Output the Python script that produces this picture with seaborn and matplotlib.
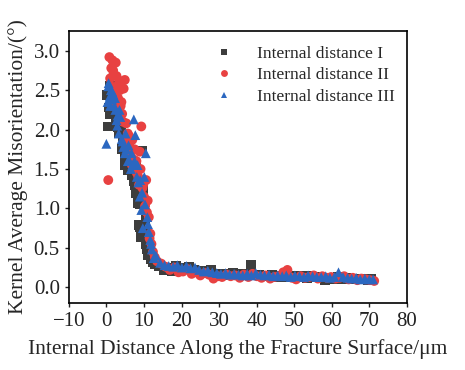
import seaborn as sns
import matplotlib.pyplot as plt
import pandas as pd

# Internal distance I (black squares)
x_I = [0.2, 0.4, 0.7, 1.0, 1.3, 1.7, 2.0, 2.4, 2.8, 3.2, 3.6, 4.0, 4.4, 4.8, 5.2, 5.6, 6.0,
       6.4, 6.8, 7.2, 7.6, 8.0, 8.3, 8.6, 8.9, 9.3, 9.6, 9.9, 10.2, 10.6, 11.0, 11.4, 11.8, 12.3,
       0.9, 1.5, 2.2, 2.6, 3.0, 3.4, 4.2, 5.0, 5.4, 6.2, 7.0, 7.4, 7.8, 9.0, 9.5, 10.4, 10.8,
       13.0, 14.0, 15.2, 16.3, 17.5, 18.6, 19.8, 21.0, 22.1, 23.3, 24.4, 25.6, 26.8, 27.9, 29.1,
       30.3, 31.4, 32.6, 33.7, 34.9, 36.1, 37.2, 38.4, 39.5, 40.7, 41.9, 43.0, 44.2, 45.3, 46.5,
       47.7, 48.8, 50.0, 51.2, 52.3, 53.5, 54.6, 55.8, 57.0, 58.1, 59.3, 60.4, 61.6, 62.8, 63.9,
       65.1, 66.2, 67.4, 68.6, 69.7, 70.5]
y_I = [2.44, 2.04, 2.28, 2.20, 2.36, 2.50, 2.48, 2.30, 2.22, 2.03, 2.12, 1.97, 1.90, 1.68, 1.65,
       1.49, 1.60, 1.55, 1.42, 1.38, 1.30, 1.53, 1.07, 0.79, 0.76, 0.64, 1.73, 1.25, 0.72, 0.55,
       0.41, 0.45, 0.36, 0.32,
       2.55, 2.30, 2.40, 2.15, 2.25, 1.95, 1.75, 1.55, 1.62, 1.70, 1.45, 1.35, 1.20, 1.05, 1.30,
       0.85, 0.48,
       0.30, 0.27, 0.22, 0.24, 0.20, 0.27, 0.25, 0.24, 0.26, 0.22, 0.20, 0.21, 0.18, 0.22, 0.17,
       0.15, 0.17, 0.16, 0.18, 0.15, 0.17, 0.16, 0.28, 0.15, 0.16, 0.14, 0.15, 0.16, 0.13, 0.15,
       0.13, 0.14, 0.15, 0.13, 0.14, 0.12, 0.14, 0.13, 0.12, 0.09, 0.12, 0.11, 0.13, 0.11, 0.12,
       0.10, 0.11, 0.10, 0.11, 0.09, 0.10]

# Internal distance II (red circles)
x_II = [0.5, 0.8, 1.0, 1.3, 1.6, 1.9, 2.2, 2.5, 2.8, 3.1, 3.4, 3.8, 4.2, 4.6, 4.9, 5.3, 5.7,
        6.1, 6.5, 6.9, 7.3, 7.7, 8.1, 8.5, 8.9, 9.3, 9.6, 10.0, 10.3, 10.6, 11.0, 11.3, 11.7,
        12.0, 12.4, 12.9,
        1.2, 1.8, 2.0, 2.7, 3.0, 3.6, 4.0, 4.4, 5.5, 6.0, 6.8, 7.5, 8.0, 8.7, 9.1, 9.8, 10.8, 11.5,
        13.5, 14.6, 15.8, 16.9, 18.1, 19.2, 20.4, 21.6, 22.7, 23.9, 25.0, 26.2, 27.3, 28.5,
        29.7, 30.8, 32.0, 33.1, 34.3, 35.5, 36.6, 37.8, 38.9, 40.1, 41.3, 42.4, 43.6, 44.7,
        45.9, 47.1, 48.2, 49.4, 50.5, 51.7, 52.9, 54.0, 55.2, 56.3, 57.5, 58.7, 59.8, 61.0,
        62.1, 63.3, 64.5, 65.6, 66.8, 67.9, 69.1, 70.2, 71.3]
y_II = [1.36, 2.92, 2.65, 2.78, 2.88, 2.70, 2.32, 2.85, 2.55, 2.40, 2.62, 2.30, 2.20, 2.52,
        2.63, 2.08, 1.95, 1.80, 1.70, 1.87, 1.62, 1.52, 1.45, 1.40, 1.72, 2.04, 1.26, 1.15,
        1.03, 1.36, 1.10, 0.89, 0.68, 0.55, 0.45, 0.38,
        2.55, 2.75, 2.45, 2.68, 2.25, 2.50, 2.35, 2.10, 1.85, 1.92, 1.55, 1.75, 1.60, 1.30,
        1.50, 1.30, 0.95, 0.62,
        0.33, 0.30, 0.26, 0.22, 0.25, 0.19, 0.20, 0.23, 0.17, 0.19, 0.15, 0.18, 0.16, 0.11,
        0.14, 0.13, 0.16, 0.14, 0.15, 0.12, 0.16, 0.13, 0.17, 0.14, 0.12, 0.15, 0.11, 0.13,
        0.14, 0.19, 0.22, 0.12, 0.10, 0.14, 0.12, 0.13, 0.15, 0.11, 0.14, 0.12, 0.13, 0.11,
        0.12, 0.14, 0.10, 0.12, 0.09, 0.11, 0.10, 0.09, 0.08]

# Internal distance III (blue triangles)
x_III = [0.0, 0.3, 0.6, 0.9, 1.2, 1.5, 1.8, 2.1, 2.4, 2.7, 3.0, 3.3, 3.7, 4.1, 4.5, 4.9, 5.3,
         5.7, 6.1, 6.5, 6.9, 7.3, 7.7, 8.1, 8.5, 8.9, 9.3, 9.7, 10.1, 10.5, 10.9, 11.3, 11.7,
         12.1, 12.6,
         0.5, 1.0, 1.6, 2.3, 2.9, 3.5, 4.3, 5.1, 5.9, 6.7, 7.5, 8.3, 9.0, 9.5, 10.3, 11.1, 11.9,
         13.2, 14.3, 15.5, 16.6, 17.8, 18.9, 20.1, 21.3, 22.4, 23.6, 24.7, 25.9, 27.0, 28.2,
         29.4, 30.5, 31.7, 32.8, 34.0, 35.2, 36.3, 37.5, 38.6, 39.8, 41.0, 42.1, 43.3, 44.4,
         45.6, 46.8, 47.9, 49.1, 50.2, 51.4, 52.6, 53.7, 54.9, 56.0, 57.2, 58.4, 59.5, 60.7,
         61.8, 63.0, 64.2, 65.3, 66.5, 67.6, 68.8, 70.0, 71.0]
y_III = [1.82, 2.35, 2.59, 2.42, 2.50, 2.38, 2.45, 2.30, 2.25, 2.12, 2.18, 1.95, 2.16, 1.88,
         1.78, 1.70, 1.75, 1.60, 1.61, 1.50, 1.55, 2.13, 1.93, 1.40, 1.33, 1.15, 0.98, 0.75,
         1.40, 1.70, 0.89, 0.70, 0.60, 0.48, 0.37,
         2.55, 2.30, 2.48, 2.40, 2.05, 2.25, 1.85, 1.95, 1.80, 1.70, 1.60, 1.55, 1.36, 1.20,
         1.05, 0.80, 0.55,
         0.40, 0.31, 0.28, 0.27, 0.26, 0.28, 0.25, 0.27, 0.24, 0.25, 0.22, 0.20, 0.21, 0.19,
         0.18, 0.17, 0.18, 0.16, 0.17, 0.16, 0.15, 0.17, 0.15, 0.18, 0.16, 0.15, 0.16, 0.14,
         0.15, 0.14, 0.15, 0.13, 0.15, 0.14, 0.13, 0.15, 0.14, 0.13, 0.13, 0.14, 0.12, 0.13,
         0.19, 0.13, 0.12, 0.11, 0.12, 0.10, 0.11, 0.10, 0.10]

labels = ['Internal distance I', 'Internal distance II', 'Internal distance III']
colors = ['#3d3d3d', '#e84141', '#2b67c0']
markers = ['s', 'o', '^']

df = pd.concat([
    pd.DataFrame({'x': x_I, 'y': y_I, 'series': labels[0]}),
    pd.DataFrame({'x': x_II, 'y': y_II, 'series': labels[1]}),
    pd.DataFrame({'x': x_III, 'y': y_III, 'series': labels[2]}),
], ignore_index=True)

sns.set_theme(style="ticks")
plt.rcParams['font.family'] = ['Liberation Serif', 'DejaVu Serif']

fig = plt.figure(figsize=(4.65, 3.7), dpi=100)
ax = fig.add_axes([0.148, 0.181, 0.727, 0.735])

sns.scatterplot(data=df, x='x', y='y', hue='series', style='series',
                palette=dict(zip(labels, colors)), markers=dict(zip(labels, markers)),
                s=50, linewidth=0, ax=ax)

ax.set_xlim(-10, 80)
ax.set_ylim(-0.2, 3.25)
ax.set_xticks(range(-10, 81, 10))
yt = [0.0, 0.5, 1.0, 1.5, 2.0, 2.5, 3.0]
ax.set_yticks(yt)
ax.set_yticklabels([f'{v:.1f}' for v in yt])
ax.tick_params(labelsize=15, length=3, width=1, direction='out', colors='#222222')
for sp in ax.spines.values():
    sp.set_visible(True)
    sp.set_linewidth(1.2)
    sp.set_color('black')

ax.set_xlabel('Internal Distance Along the Fracture Surface/μm', fontsize=15.5, labelpad=6)
ax.set_ylabel('Kernel Average Misorientation/(°)', fontsize=15.5, labelpad=4)

ax.legend(title=None, frameon=False, loc='upper right', bbox_to_anchor=(1.0, 0.99),
          fontsize=12.5, markerscale=0.7, handletextpad=0.9, labelspacing=0.3,
          borderaxespad=0.3)

fig.savefig('out.png', dpi=100)
